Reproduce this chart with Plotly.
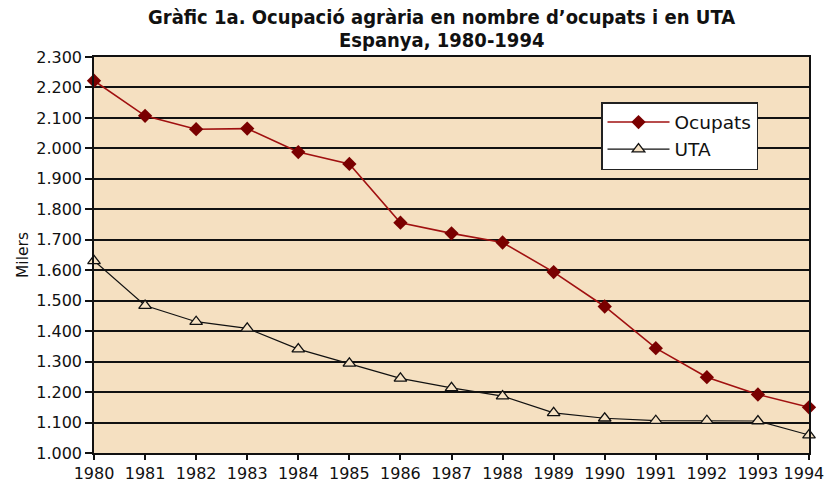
import plotly.graph_objects as go

years = list(range(1980, 1995))
ocupats = [2222, 2107, 2063, 2065, 1988, 1949, 1756, 1721, 1691, 1594, 1481, 1344, 1249, 1192, 1150]
uta = [1631, 1484, 1431, 1409, 1341, 1294, 1245, 1214, 1187, 1132, 1114, 1106, 1106, 1105, 1059]

y_tickvals = [1000, 1100, 1200, 1300, 1400, 1500, 1600, 1700, 1800, 1900, 2000, 2100, 2200, 2300]
y_ticktext = ["1.000", "1.100", "1.200", "1.300", "1.400", "1.500", "1.600", "1.700",
              "1.800", "1.900", "2.000", "2.100", "2.200", "2.300"]
x_ticktext = ["1980", "1981", "1982", "1983", "1984", "1985", "1986", "1987",
              "1988", "1989", "1990", "1991", "1992", "1993", "1994\u00a0\u00a0"]

title_line1 = "Gràfic 1a. Ocupació agrària en nombre d’ocupats i en UTA"
title_line2 = "Espanya, 1980-1994"

font_main = "DejaVu Sans, Liberation Sans, Arial, sans-serif"
font_title = "DejaVu Sans Condensed, Liberation Sans Narrow, Arial Narrow, sans-serif"

fig = go.Figure()
fig.add_trace(go.Scatter(
    x=years, y=ocupats, name="Ocupats", mode="lines+markers",
    line=dict(color="#a01010", width=1.6),
    marker=dict(symbol="diamond", size=11, color="#7a0000"),
    cliponaxis=False,
))
fig.add_trace(go.Scatter(
    x=years, y=uta, name="UTA", mode="lines+markers",
    line=dict(color="#111111", width=1.2),
    marker=dict(symbol="triangle-up", size=11, color="#f6e2c4",
                line=dict(color="#111111", width=1.3)),
    cliponaxis=False,
))

# plot area: x 94..809 px, y 57..453 px
for txt, ypx in [(title_line1, 17), (title_line2, 39.5)]:
    fig.add_annotation(
        text="<b>" + txt + "</b>", xref="paper", yref="paper",
        x=(441 - 94) / 715, y=1 + (57 - ypx) / 396,
        xanchor="center", yanchor="middle", showarrow=False,
        font=dict(family=font_title, size=20, color="#111111"),
    )

fig.update_layout(
    width=827, height=484,
    margin=dict(l=94, r=18, t=57, b=31),
    paper_bgcolor="white",
    plot_bgcolor="#f5e0c1",
    font=dict(family=font_main, size=16, color="#111111"),
    showlegend=True,
    legend=dict(x=(601 - 94) / 715, y=(453 - 102) / 396, xanchor="left", yanchor="top",
                bgcolor="white", bordercolor="#222222", borderwidth=1.5,
                font=dict(family=font_main, size=18.5, color="#111111"),
                tracegroupgap=0, itemwidth=62,
                traceorder="normal"),
)

fig.update_xaxes(
    range=[1980, 1994], tickvals=years, ticktext=x_ticktext,
    showgrid=False, zeroline=False, automargin=False, ticklabeloverflow="allow",
    showline=True, linecolor="#111111", linewidth=1.5, mirror=True,
    ticks="outside", ticklen=5, tickcolor="#111111", tickwidth=1.5,
    tickfont=dict(family=font_main, size=16, color="#111111"),
)
fig.update_yaxes(
    range=[1000, 2300], tickvals=y_tickvals, ticktext=y_ticktext,
    showgrid=True, gridcolor="#111111", gridwidth=1.5, zeroline=False, automargin=False,
    showline=True, linecolor="#111111", linewidth=1.5, mirror=True,
    ticks="outside", ticklen=7, tickcolor="#111111", tickwidth=1.5,
    tickfont=dict(family=font_main, size=16, color="#111111"),
    title=dict(text="Milers", standoff=4, font=dict(family=font_main, size=15.5, color="#111111")),
)

fig.write_html("out.html", config={"displayModeBar": False},
               post_script="document.body.style.margin='0';")
